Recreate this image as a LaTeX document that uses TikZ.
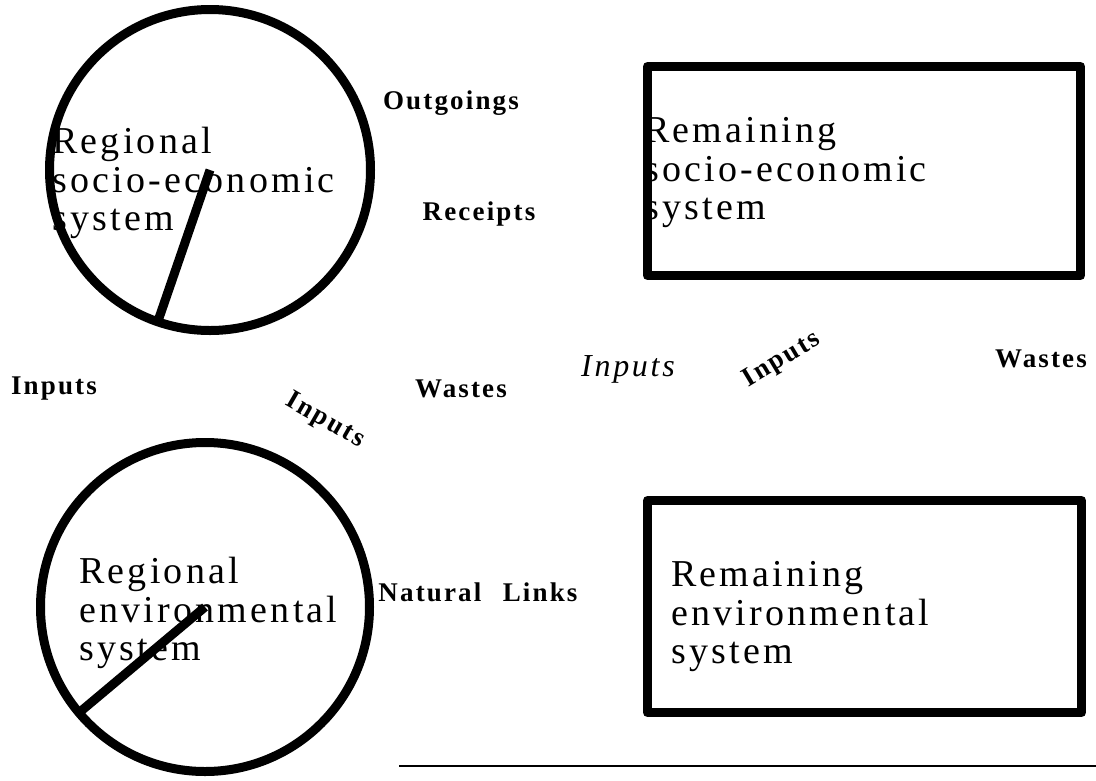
\documentclass[tikz,border=0pt]{standalone}
\usepackage{fontspec}
\setmainfont[LetterSpace=8.5]{Liberation Serif}
\newfontfamily\labelfont[LetterSpace=8,WordSpace=2.4]{Liberation Serif}
\usetikzlibrary{positioning}

\begin{document}
\begin{tikzpicture}[x=1pt,y=-1pt,line join=round,
    sys/.style={draw,line width=9pt,outer sep=0pt,inner sep=0pt},
    systext/.style={anchor=west,align=left,inner sep=0pt,font=\fontsize{38}{38.5}\selectfont},
    flow/.style={inner sep=0pt,font=\labelfont\bfseries\fontsize{27}{29}\selectfont}]
    \useasboundingbox (0,0) rectangle (1096,780);
    % systems
    \node[sys,circle,minimum size=321pt] (regsoc) at (210,170) {};
    \node[sys,circle,minimum size=329pt] (regenv) at (205,607) {};
    \node[sys,rectangle,minimum width=433pt,minimum height=209pt] (remsoc) at (864,171) {};
    \node[sys,rectangle,minimum width=434pt,minimum height=212pt] (remenv) at (864.5,606.5) {};
    \draw[line width=9pt] (regsoc.center) -- (regsoc.251);
    \draw[line width=9pt] (regenv.center) -- (regenv.220);
    \node[systext] (regsoctext) at (52,183) {Regional\\socio-economic\\system};
    \node[systext] (regenvtext) at (79,613) {Regional\\environmental\\system};
    \node[systext] (remsoctext) at (644,173) {Remaining\\socio-economic\\system};
    \node[systext] (remenvtext) at (671,617) {Remaining\\environmental\\system};
    % flows
    \node[flow] (outgoings) at (451,103) {Outgoings};
    \node[flow] (receipts) at (479,214) {Receipts};
    \node[flow] (inputsleft) at (54,389) {Inputs};
    \node[flow] (wastesmid) at (461,389) {Wastes};
    \node[flow,rotate=-30] (inputsdown) at (325,421) {Inputs};
    \node[inner sep=0pt,font=\itshape\fontsize{32}{34}\selectfont] (inputsit) at (628,369) {Inputs};
    \node[flow,rotate=31] (inputsup) at (782,360) {Inputs};
    \node[flow] (wastesright) at (1041,359) {Wastes};
    \node[flow] (natlinks) at (478,592) {Natural Links};
    % rule
    \coordinate (rulestart) at (399,766);
    \coordinate (ruleend) at (1096,766);
    \draw[line width=1.5pt] (rulestart) -- (ruleend);
\end{tikzpicture}
\end{document}
